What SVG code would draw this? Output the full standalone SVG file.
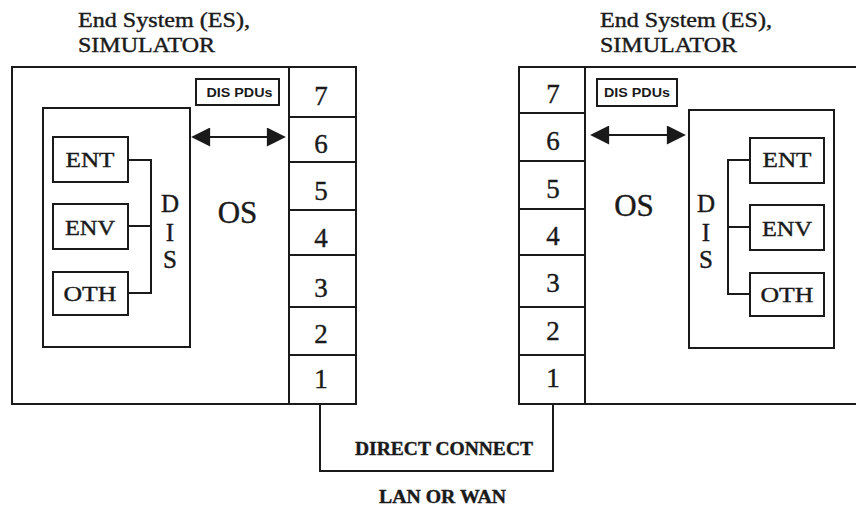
<svg xmlns="http://www.w3.org/2000/svg" width="857" height="507" viewBox="0 0 857 507">
<style>
.b{fill:none;stroke:#1a1a1a;stroke-width:2}
.t{font-family:"Liberation Serif",serif;fill:#1a1a1a;stroke:#1a1a1a;stroke-width:0.4}
.title{font-size:21px}
.num{font-size:27px;text-anchor:middle}
.box{font-size:22px;text-anchor:middle}
.os{font-size:31px;text-anchor:middle}
.dis{font-size:25px;text-anchor:middle}
.pdu{font-family:"Liberation Sans",sans-serif;font-size:13px;font-weight:bold;text-anchor:middle;fill:#1a1a1a}
.lbl{font-size:18px;font-weight:bold;text-anchor:middle}
</style>
<defs>
<marker id="ah" viewBox="0 0 10 10" refX="9" refY="5" markerWidth="24" markerHeight="19" markerUnits="userSpaceOnUse" orient="auto-start-reverse">
<path d="M0,0 L10,5 L0,10 Z" fill="#1a1a1a"/>
</marker>
</defs>

<g id="es-left">
<text class="t title" x="78" y="27" textLength="172" lengthAdjust="spacingAndGlyphs">End System (ES),</text>
<text class="t title" x="78" y="52" textLength="137" lengthAdjust="spacingAndGlyphs">SIMULATOR</text>
<rect class="b" x="12" y="67" width="344" height="337"/>
<text class="t os" x="237.5" y="223">OS</text>
</g>
<g id="stack-left">
<rect class="b" x="289" y="67" width="67" height="337"/>
<path class="b" d="M289,117H356M289,162H356M289,210H356M289,255H356M289,307H356M289,355H356"/>
<text class="t num" x="321" y="105">7</text>
<text class="t num" x="321" y="153">6</text>
<text class="t num" x="321" y="200">5</text>
<text class="t num" x="321" y="247">4</text>
<text class="t num" x="321" y="297">3</text>
<text class="t num" x="321" y="343">2</text>
<text class="t num" x="321" y="388">1</text>
</g>
<g id="pdu-left">
<rect class="b" x="196" y="79" width="83" height="26"/>
<text class="pdu" x="239.5" y="97" textLength="66" lengthAdjust="spacingAndGlyphs">DIS PDUs</text>
</g>
<g id="dis-left">
<rect class="b" x="43" y="108" width="147" height="239"/>
<text class="t dis" x="170" y="212">D</text>
<text class="t dis" x="170" y="241">I</text>
<text class="t dis" x="170" y="268">S</text>
</g>
<g id="ent-left"><rect class="b" x="53" y="137" width="75" height="45"/><text class="t box" x="90" y="167" textLength="49" lengthAdjust="spacingAndGlyphs">ENT</text></g>
<g id="env-left"><rect class="b" x="53" y="204" width="75" height="45"/><text class="t box" x="90" y="235" textLength="50" lengthAdjust="spacingAndGlyphs">ENV</text></g>
<g id="oth-left"><rect class="b" x="53" y="272" width="75" height="43"/><text class="t box" x="90" y="301" textLength="53" lengthAdjust="spacingAndGlyphs">OTH</text></g>

<g id="es-right">
<text class="t title" x="600" y="27" textLength="172" lengthAdjust="spacingAndGlyphs">End System (ES),</text>
<text class="t title" x="600" y="52" textLength="137" lengthAdjust="spacingAndGlyphs">SIMULATOR</text>
<path class="b" d="M856,67H519V404H856"/>
<text class="t os" x="634" y="216">OS</text>
</g>
<g id="stack-right">
<rect class="b" x="519" y="67" width="66" height="337"/>
<path class="b" d="M519,113H585M519,161H585M519,209H585M519,255H585M519,307H585M519,355H585"/>
<text class="t num" x="553" y="103">7</text>
<text class="t num" x="553" y="150">6</text>
<text class="t num" x="553" y="198">5</text>
<text class="t num" x="553" y="245">4</text>
<text class="t num" x="553" y="292">3</text>
<text class="t num" x="553" y="340">2</text>
<text class="t num" x="553" y="387">1</text>
</g>
<g id="pdu-right">
<rect class="b" x="597" y="79" width="80" height="27"/>
<text class="pdu" x="637" y="97" textLength="66" lengthAdjust="spacingAndGlyphs">DIS PDUs</text>
</g>
<g id="dis-right">
<rect class="b" x="689" y="110" width="145" height="238"/>
<text class="t dis" x="706" y="212">D</text>
<text class="t dis" x="706" y="241">I</text>
<text class="t dis" x="706" y="268">S</text>
</g>
<g id="ent-right"><rect class="b" x="750" y="138" width="74" height="45"/><text class="t box" x="787" y="167" textLength="49" lengthAdjust="spacingAndGlyphs">ENT</text></g>
<g id="env-right"><rect class="b" x="750" y="205" width="74" height="45"/><text class="t box" x="787" y="236" textLength="50" lengthAdjust="spacingAndGlyphs">ENV</text></g>
<g id="oth-right"><rect class="b" x="750" y="273" width="74" height="43"/><text class="t box" x="787" y="302" textLength="53" lengthAdjust="spacingAndGlyphs">OTH</text></g>

<g id="connectors">
<path class="b" d="M128,160H151V293H128M128,226H151"/>
<path class="b" d="M750,160H728V294H750M750,227H728"/>
<line class="b" x1="193" y1="137" x2="284" y2="137" marker-start="url(#ah)" marker-end="url(#ah)"/>
<line class="b" x1="592" y1="135" x2="684" y2="135" marker-start="url(#ah)" marker-end="url(#ah)"/>
<path class="b" d="M320,404V471H553V404"/>
</g>
<g id="labels">
<text class="t lbl" x="444" y="455" textLength="178" lengthAdjust="spacingAndGlyphs">DIRECT CONNECT</text>
<text class="t lbl" x="442.5" y="503" textLength="127" lengthAdjust="spacingAndGlyphs">LAN OR WAN</text>
</g>
</svg>
